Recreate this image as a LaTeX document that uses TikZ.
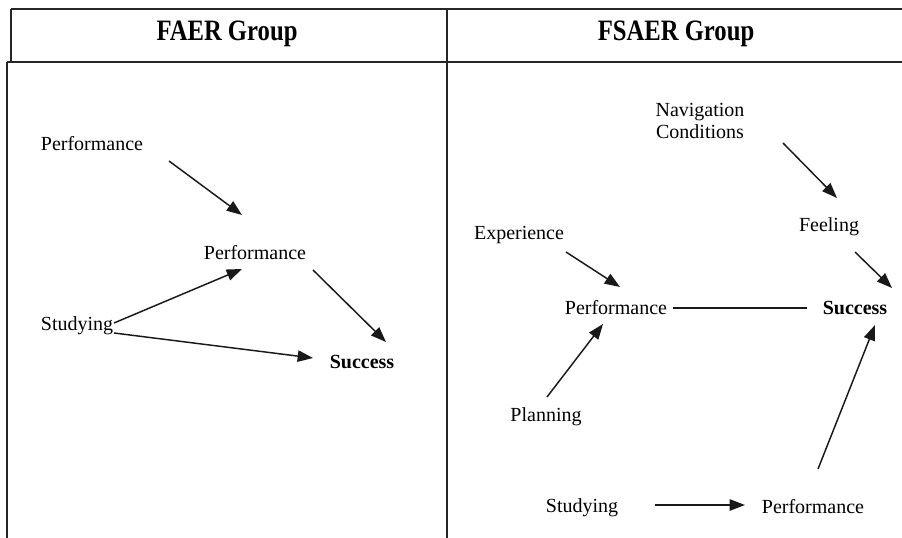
\documentclass[tikz,border=0pt]{standalone}
\usepackage{fontspec}
\setmainfont{Liberation Serif}
\usetikzlibrary{arrows.meta}
\begin{document}
\begin{tikzpicture}[x=0.75pt,y=-0.75pt,
  lbl/.style={inner sep=0pt,font=\fontsize{15}{17}\selectfont},
  key/.style={inner sep=0pt,font=\fontsize{15}{17}\selectfont\bfseries},
  head/.style={inner sep=0pt,font=\fontsize{18.5}{22}\selectfont\bfseries},
  frame/.style={line width=1pt,black!85},
  arr/.style={line width=1.1pt,black!90,-{Triangle[length=11.5pt,width=8.5pt]}},
  link/.style={line width=1.1pt,black!90}]
\useasboundingbox (0,0) rectangle (902,538);

% table frame
\draw[frame] (11,9) -- (902,9);
\draw[frame] (11,9) -- (11,62);
\draw[frame] (7,62) -- (902,62);
\draw[frame] (7,62) -- (7,538);
\draw[frame] (447,9) -- (447,538);

% column headers
\node[head] (hL) at (227,34) {\scalebox{1}[1.2]{FAER Group}};
\node[head] (hR) at (676,34) {\scalebox{1}[1.2]{FSAER Group}};

% FAER model
\node[lbl] (pA)    at (92,144)  {Performance};
\node[lbl] (pB)    at (255,253) {Performance};
\node[lbl] (sL)    at (77,326)  {Studying};
\node[key] (succL) at (362,362) {Success};

\draw[arr] ([shift={(77,17)}]pA.center)  -- ([shift={(-13,-38)}]pB.center);
\draw[arr] ([shift={(37,-3)}]sL.center)  -- ([shift={(-13,16)}]pB.center);
\draw[arr] ([shift={(37,7)}]sL.center)   -- ([shift={(-49,-4)}]succL.center);
\draw[arr] ([shift={(58,17)}]pB.center)  -- ([shift={(24,-20)}]succL.center);

% FSAER model
\node[lbl,align=center] (nav) at (700,121) {Navigation\\Conditions};
\node[lbl] (feel)  at (829,227) {Feeling};
\node[lbl] (exp)   at (519,235) {Experience};
\node[lbl] (pR)    at (616,308) {Performance};
\node[key] (succR) at (855,308) {Success};
\node[lbl] (plan)  at (546,417) {Planning};
\node[lbl] (sR)    at (582,508) {Studying};
\node[lbl] (pS)    at (813,507) {Performance};

\draw[arr]  ([shift={(83,22)}]nav.center)   -- ([shift={(8,-29)}]feel.center);
\draw[arr]  ([shift={(26,25)}]feel.center)  -- ([shift={(37,-20)}]succR.center);
\draw[arr]  ([shift={(47,17)}]exp.center)   -- ([shift={(4,-21)}]pR.center);
\draw[link] ([shift={(57,0)}]pR.center)     -- ([shift={(-48,0)}]succR.center);
\draw[arr]  ([shift={(1,-20)}]plan.center)  -- ([shift={(-13,16)}]pR.center);
\draw[arr]  ([shift={(73,-3)}]sR.center)    -- ([shift={(-68,-2)}]pS.center);
\draw[arr]  ([shift={(5,-38)}]pS.center)    -- ([shift={(20,17)}]succR.center);
\end{tikzpicture}
\end{document}
